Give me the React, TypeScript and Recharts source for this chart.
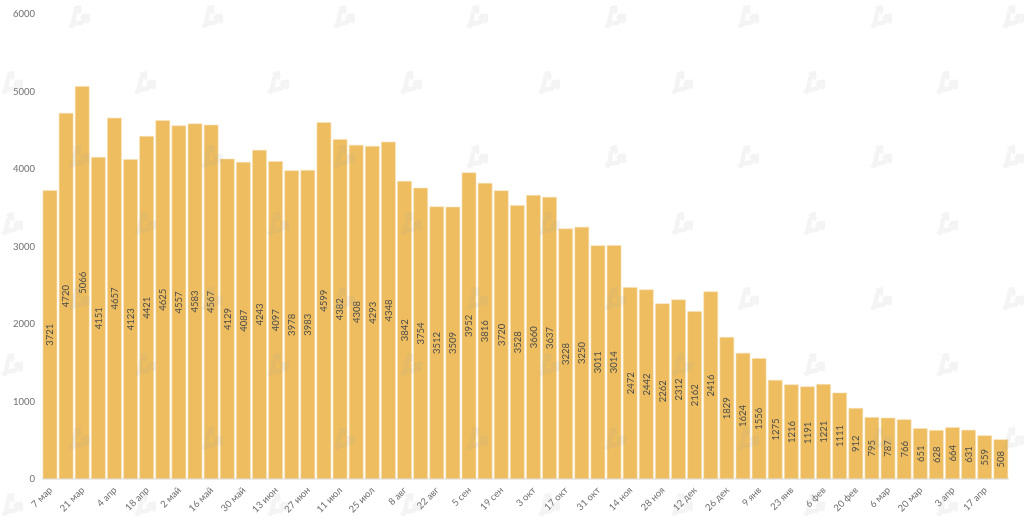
import React from "react"
import { BarChart, Bar, XAxis, YAxis, LabelList } from "recharts"

const WEEKS = [
  "7 мар", "14 мар", "21 мар", "28 мар", "4 апр", "11 апр", "18 апр", "25 апр", "2 май", "9 май",
  "16 май", "23 май", "30 май", "6 июн", "13 июн", "20 июн", "27 июн", "4 июл", "11 июл", "18 июл",
  "25 июл", "1 авг", "8 авг", "15 авг", "22 авг", "29 авг", "5 сен", "12 сен", "19 сен", "26 сен",
  "3 окт", "10 окт", "17 окт", "24 окт", "31 окт", "7 ноя", "14 ноя", "21 ноя", "28 ноя", "5 дек",
  "12 дек", "19 дек", "26 дек", "2 янв", "9 янв", "16 янв", "23 янв", "30 янв", "6 фев", "13 фев",
  "20 фев", "27 фев", "6 мар", "13 мар", "20 мар", "27 мар", "3 апр", "10 апр", "17 апр", "24 апр",
]

const COUNTS = [
  3721, 4720, 5066, 4151, 4657, 4123, 4421, 4625, 4557, 4583,
  4567, 4129, 4087, 4243, 4097, 3978, 3983, 4599, 4382, 4308,
  4293, 4348, 3842, 3754, 3512, 3509, 3952, 3816, 3720, 3528,
  3660, 3637, 3228, 3250, 3011, 3014, 2472, 2442, 2262, 2312,
  2162, 2416, 1829, 1624, 1556, 1275, 1216, 1191, 1221, 1111,
  912, 795, 787, 766, 651, 628, 664, 631, 559, 508,
]

const Y_TICKS = [0, 1000, 2000, 3000, 4000, 5000, 6000]

const chartData = WEEKS.map((week, i) => ({ week, count: COUNTS[i] }))

const FONT = "Lato, sans-serif"

// background logo tiling, two staggered sets of rows
const MARK_ROWS_A = [5, 145, 287, 427]
const MARK_COLS_A = [67, 200, 332, 465, 603, 736, 869, 1001]
const MARK_ROWS_B = [71, 212, 353, 493]
const MARK_COLS_B = [0, 133, 266, 399, 537, 670, 802, 935]

const MARK_PATH =
  "M5 23.5 L1 21.5 L4 17 L6 6 L8 5 L6 3 L9 .5 L14 0 L14.5 7 L12.5 10 L10.5 7 L9 16 L15 15 L13 13 L15.5 9 L23 8.5 L23 17 L20 19 L19 17 L15 20 L8 21 Z"

function Watermark() {
  const place = (rows: number[], cols: number[]) =>
    rows.flatMap((y) =>
      cols.map((x) => <path key={`${x}-${y}`} d={MARK_PATH} transform={`translate(${x} ${y})`} />)
    )
  return (
    <svg
      width={1024}
      height={521}
      fill="#a8a8a8"
      fillOpacity={0.12}
      style={{ position: "absolute", left: 0, top: 0, pointerEvents: "none" }}
    >
      {place(MARK_ROWS_A, MARK_COLS_A)}
      {place(MARK_ROWS_B, MARK_COLS_B)}
    </svg>
  )
}

export default function App() {
  return (
    <div
      style={{
        position: "absolute",
        left: 0,
        top: 0,
        width: 1024,
        height: 521,
        background: "#fff",
        overflow: "hidden",
        filter: "blur(0.35px)",
      }}
    >
      <BarChart
        width={1024}
        height={521}
        data={chartData}
        margin={{ top: 14, right: 15, bottom: 0, left: 0 }}
        barCategoryGap="6%"
      >
        <XAxis
          dataKey="week"
          interval={1}
          height={42}
          angle={-45}
          textAnchor="end"
          tickLine={false}
          axisLine={{ stroke: "#d9d9d9", strokeWidth: 1 }}
          tick={{ fontSize: 9.5, fill: "#6f6f6f", fontFamily: FONT, dx: -2 }}
          tickMargin={1}
        />
        <YAxis
          width={42}
          domain={[0, 6000]}
          ticks={Y_TICKS}
          axisLine={false}
          tickLine={false}
          tickMargin={1}
          tick={{ fontSize: 9.5, fill: "#6f6f6f", fontFamily: FONT }}
        />
        <Bar dataKey="count" fill="#edbd5f" stroke="#f8e3b8" strokeWidth={0.6} isAnimationActive={false}>
          <LabelList
            dataKey="count"
            position="center"
            angle={-90}
            style={{ fontSize: 9.5, fill: "#4d4d4d", fontFamily: FONT }}
          />
        </Bar>
      </BarChart>
      <Watermark />
    </div>
  )
}
